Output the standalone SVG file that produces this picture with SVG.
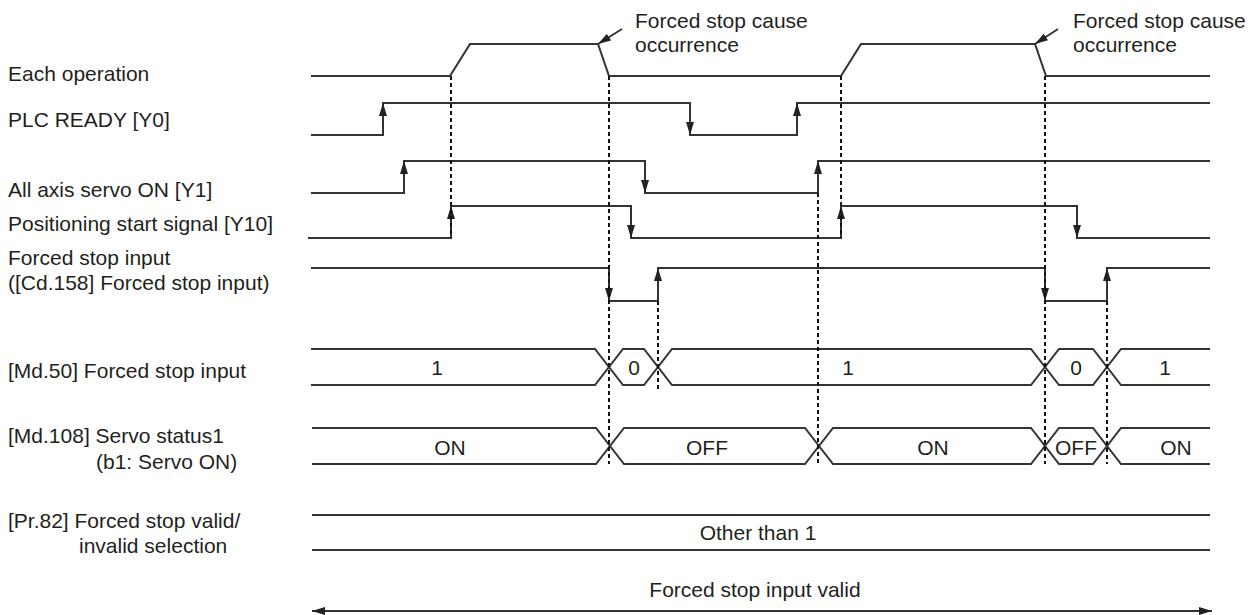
<svg xmlns="http://www.w3.org/2000/svg" width="1255" height="615" viewBox="0 0 1255 615">
<style>
text{font-family:"Liberation Sans",Arial,sans-serif;font-size:21px;fill:#231f20}
.c{text-anchor:middle}
.s{fill:none;stroke:#333;stroke-width:2}
.a{fill:none;stroke:#333;stroke-width:2;marker-end:url(#ah)}
.d{fill:none;stroke:#111;stroke-width:2;stroke-dasharray:4 3}
</style>
<defs>
<marker id="ah" viewBox="0 0 13 8" refX="13" refY="4" markerWidth="13" markerHeight="8" orient="auto-start-reverse" markerUnits="userSpaceOnUse">
<path d="M0,0 L13,4 L0,8 z" fill="#222"/>
</marker>
</defs>

<g id="each-operation">
<text x="8" y="81">Each operation</text>
<path class="s" d="M311,76 H450 L470,44 H598 L609,76 H841 L861,44 H1035 L1046,76 H1210"/>
</g>

<g id="plc-ready">
<text x="8" y="127">PLC READY [Y0]</text>
<path class="s" d="M311,135 H383 V103 H690 V135 H797 V103 H1210"/>
<line class="a" x1="383" y1="135" x2="383" y2="103"/>
<line class="a" x1="690" y1="103" x2="690" y2="135"/>
<line class="a" x1="797" y1="135" x2="797" y2="103"/>
</g>

<g id="all-axis-servo-on">
<text x="8" y="197">All axis servo ON [Y1]</text>
<path class="s" d="M311,193 H404 V161 H645 V193 H818 V161 H1210"/>
<line class="a" x1="404" y1="193" x2="404" y2="161"/>
<line class="a" x1="645" y1="161" x2="645" y2="193"/>
<line class="a" x1="818" y1="193" x2="818" y2="161"/>
</g>

<g id="positioning-start-signal">
<text x="8" y="231">Positioning start signal [Y10]</text>
<path class="s" d="M308,238 H451 V206 H631 V238 H841 V206 H1077 V238 H1210"/>
<line class="a" x1="451" y1="238" x2="451" y2="206"/>
<line class="a" x1="631" y1="206" x2="631" y2="238"/>
<line class="a" x1="841" y1="238" x2="841" y2="206"/>
<line class="a" x1="1077" y1="206" x2="1077" y2="238"/>
</g>

<g id="forced-stop-input">
<text x="8" y="265">Forced stop input</text>
<text x="8" y="290">([Cd.158] Forced stop input)</text>
<path class="s" d="M311,268 H609 V301 H658 V268 H1045 V301 H1107 V268 H1210"/>
<line class="a" x1="609" y1="268" x2="609" y2="301"/>
<line class="a" x1="658" y1="301" x2="658" y2="268"/>
<line class="a" x1="1045" y1="268" x2="1045" y2="301"/>
<line class="a" x1="1107" y1="301" x2="1107" y2="268"/>
</g>

<g id="md50-forced-stop-input">
<text x="8" y="378">[Md.50] Forced stop input</text>
<path class="s" d="M311,349 H595 L623,385 H644 L672,349 H1031 L1059,385 H1093 L1121,349 H1210"/>
<path class="s" d="M311,385 H595 L623,349 H644 L672,385 H1031 L1059,349 H1093 L1121,385 H1210"/>
<text class="c" x="437" y="375">1</text>
<text class="c" x="634" y="375">0</text>
<text class="c" x="848" y="375">1</text>
<text class="c" x="1076" y="375">0</text>
<text class="c" x="1165" y="375">1</text>
</g>

<g id="md108-servo-status">
<text x="8" y="443">[Md.108] Servo status1</text>
<text x="96" y="469">(b1: Servo ON)</text>
<path class="s" d="M312,428 H596 L624,464 H805 L833,428 H1031 L1059,464 H1093 L1121,428 H1210"/>
<path class="s" d="M312,464 H596 L624,428 H805 L833,464 H1031 L1059,428 H1093 L1121,464 H1210"/>
<text class="c" x="450" y="455">ON</text>
<text class="c" x="707" y="455">OFF</text>
<text class="c" x="933" y="455">ON</text>
<text class="c" x="1076" y="455">OFF</text>
<text class="c" x="1176" y="455">ON</text>
</g>

<g id="pr82-selection">
<text x="8" y="528">[Pr.82] Forced stop valid/</text>
<text x="79" y="553">invalid selection</text>
<line class="s" x1="312" y1="515" x2="1210" y2="515"/>
<line class="s" x1="312" y1="550" x2="1210" y2="550"/>
<text class="c" x="758" y="540">Other than 1</text>
</g>

<g id="valid-range">
<text class="c" x="755" y="597">Forced stop input valid</text>
<line class="s" x1="312" y1="611" x2="1212" y2="611" marker-start="url(#ah)" marker-end="url(#ah)"/>
</g>

<g id="cause-1">
<text x="635" y="28">Forced stop cause</text>
<text x="635" y="52">occurrence</text>
</g>
<g id="cause-2">
<text x="1073" y="28">Forced stop cause</text>
<text x="1073" y="52">occurrence</text>
</g>

<g id="connectors">
<line class="d" x1="451" y1="76" x2="451" y2="238"/>
<line class="d" x1="609" y1="76" x2="609" y2="464"/>
<line class="d" x1="658" y1="301" x2="658" y2="390"/>
<line class="d" x1="818" y1="193" x2="818" y2="464"/>
<line class="d" x1="841" y1="76" x2="841" y2="238"/>
<line class="d" x1="1045" y1="76" x2="1045" y2="464"/>
<line class="d" x1="1107" y1="301" x2="1107" y2="464"/>
<line class="a" x1="622" y1="29" x2="598" y2="44"/>
<line class="a" x1="1058" y1="29" x2="1035" y2="44"/>
</g>
</svg>
